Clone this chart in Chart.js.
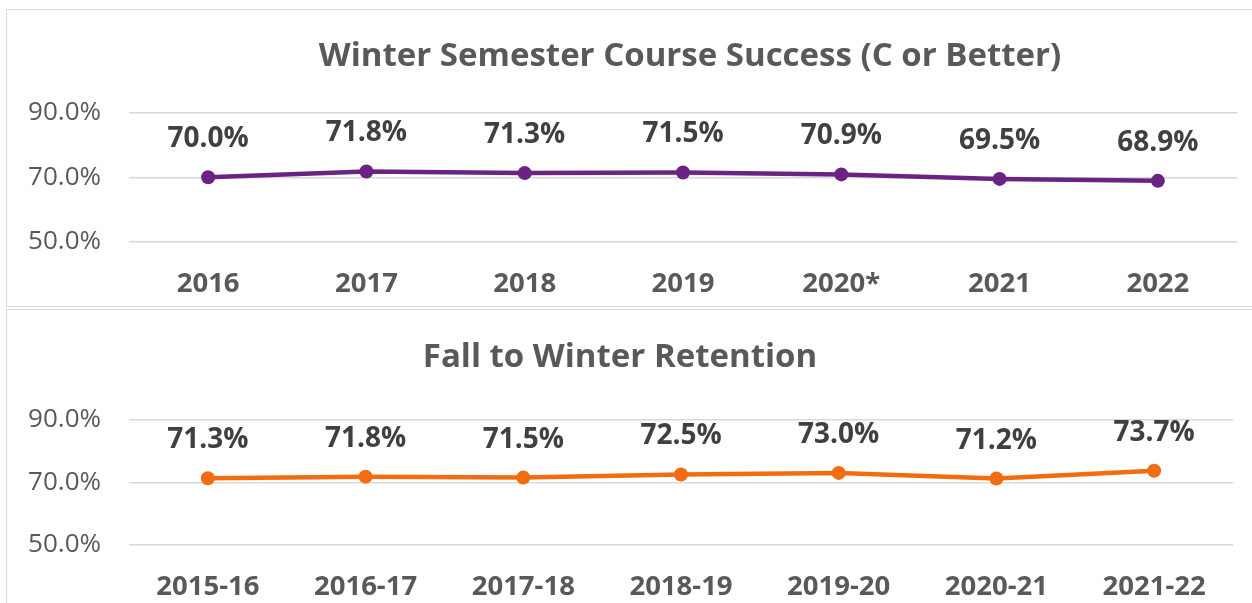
<!DOCTYPE html>
<html>
<head>
<meta charset="utf-8">
<script src="https://cdn.jsdelivr.net/npm/chart.js@4.4.0/dist/chart.umd.min.js"></script>
<style>
  html, body { margin: 0; padding: 0; background: #fff; }
  body { width: 1252px; height: 603px; position: relative; overflow: hidden; }
  .panel { position: absolute; border: 1.5px solid #d9d9d9; box-sizing: border-box; }
  #panel-top { left: 6px; top: 9px; width: 1300px; height: 298px; }
  #panel-bottom { left: 6px; top: 309px; width: 1300px; height: 320px; }
  .wrap { position: absolute; left: 0; }
  #wrap-top { top: 0; width: 1380px; height: 306px; }
  #wrap-bottom { top: 309px; width: 1240px; height: 294px; }
</style>
</head>
<body>
<div class="panel" id="panel-top"></div>
<div class="panel" id="panel-bottom"></div>
<div class="wrap" id="wrap-top"><canvas id="chart-top"></canvas></div>
<div class="wrap" id="wrap-bottom"><canvas id="chart-bottom"></canvas></div>
<script>
// --- data ---
const successYears = ['2016', '2017', '2018', '2019', '2020*', '2021', '2022'];
const successRates = [70.0, 71.8, 71.3, 71.5, 70.9, 69.5, 68.9];

const retentionYears = ['2015-16', '2016-17', '2017-18', '2018-19', '2019-20', '2020-21', '2021-22'];
const retentionRates = [71.3, 71.8, 71.5, 72.5, 73.0, 71.2, 73.7];

const yMin = 50;
const yMax = 90;
const yStep = 20;

const FONT = "'Open Sans', sans-serif";

// draws the value above each point (no datalabels plugin offline)
const valueLabels = {
  id: 'valueLabels',
  afterDatasetsDraw(chart) {
    const ctx = chart.ctx;
    const meta = chart.getDatasetMeta(0);
    const values = chart.data.datasets[0].data;
    ctx.save();
    ctx.font = "bold 28px " + FONT;
    ctx.fillStyle = '#404040';
    ctx.textAlign = 'center';
    ctx.textBaseline = 'middle';
    meta.data.forEach((pt, i) => {
      ctx.fillText(values[i].toFixed(1) + '%', pt.x, pt.y - 38);
    });
    ctx.restore();
  }
};

function makeChart(id, labels, values, color, title, opts) {
  return new Chart(document.getElementById(id), {
    type: 'line',
    data: {
      labels: labels,
      datasets: [{
        data: values,
        borderColor: color,
        backgroundColor: color,
        borderWidth: 4.5,
        pointRadius: 7,
        pointHoverRadius: 7,
        pointBorderWidth: 0,
        tension: 0
      }]
    },
    options: {
      responsive: true,
      maintainAspectRatio: false,
      animation: false,
      layout: { padding: 0 },
      plugins: {
        legend: { display: false },
        tooltip: { enabled: false },
        title: {
          display: true,
          text: title,
          color: '#595959',
          font: { family: FONT, size: 33, weight: 'bold' },
          padding: { top: opts.titleTop, bottom: opts.titleBottom }
        }
      },
      scales: {
        x: {
          offset: true,
          grid: { display: false },
          border: { display: false },
          ticks: {
            color: '#595959',
            font: { family: FONT, size: 27.5, weight: 'bold' },
            padding: opts.xPad,
            maxRotation: 0,
            autoSkip: false
          },
          afterFit(scale) { scale.height = opts.xHeight; }
        },
        y: {
          min: yMin,
          max: yMax,
          border: { display: false },
          grid: { color: '#d9d9d9', lineWidth: 1.5, drawTicks: false },
          ticks: {
            stepSize: yStep,
            color: '#595959',
            font: { family: FONT, size: 26 },
            padding: 28,
            callback: v => v.toFixed(1) + '%'
          },
          afterFit(scale) { scale.width = 129; }
        },
        // empty right-hand strip: keeps the plot where it is while the title centres on the whole chart
        gap: {
          type: 'linear',
          position: 'right',
          grid: { display: false },
          border: { display: false },
          ticks: { display: false },
          afterFit(scale) { scale.width = opts.padRight; }
        }
      }
    },
    plugins: [valueLabels]
  });
}

makeChart('chart-top', successYears, successRates, '#6b2383',
  'Winter Semester Course Success (C or Better)',
  { padRight: 143, titleTop: 37, titleBottom: 36, xPad: 18, xHeight: 64 });

makeChart('chart-bottom', retentionYears, retentionRates, '#f26d12',
  'Fall to Winter Retention',
  { padRight: 3, titleTop: 29, titleBottom: 42, xPad: 18, xHeight: 58 });
</script>
</body>
</html>
